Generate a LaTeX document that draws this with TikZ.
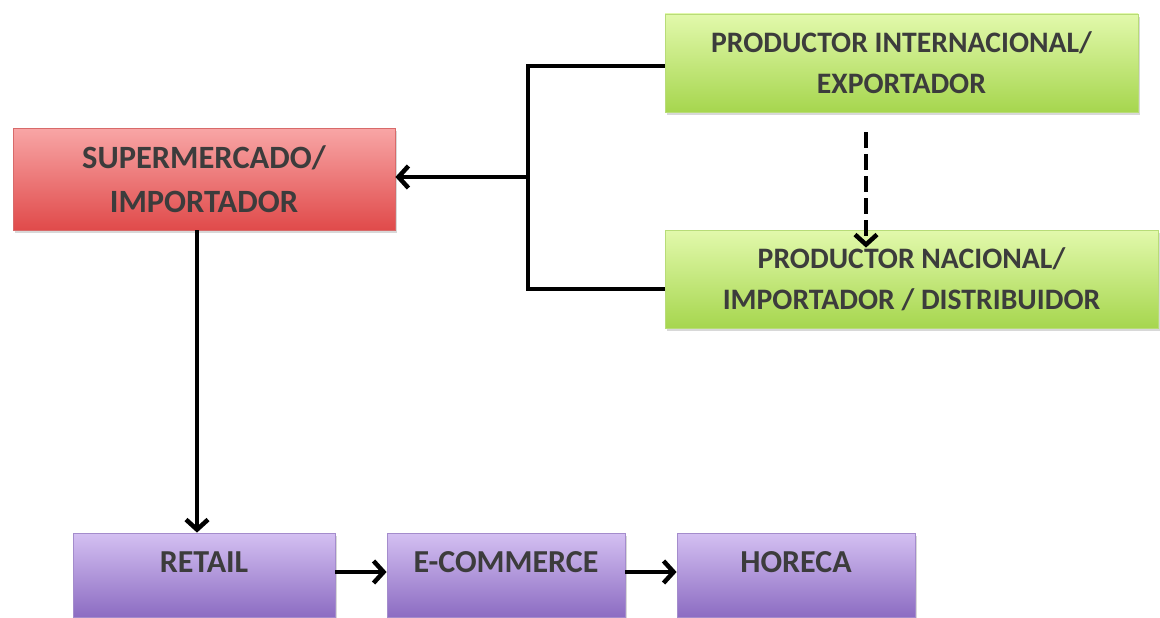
\documentclass[tikz,border=0pt]{standalone}
\usepackage{fontspec}
\setmainfont{Carlito}
\usetikzlibrary{arrows.meta,shadows}
\definecolor{txt}{HTML}{3C3C3C}
\definecolor{redtop}{HTML}{F8A6A6}
\definecolor{redbot}{HTML}{E04A4A}
\definecolor{redline}{HTML}{D86A6A}
\definecolor{grntop}{HTML}{E2F9AC}
\definecolor{grnbot}{HTML}{A6D64E}
\definecolor{grnline}{HTML}{B8DC78}
\definecolor{purtop}{HTML}{D4C0F2}
\definecolor{purbot}{HTML}{8C6CC2}
\definecolor{purline}{HTML}{A48CCC}
\begin{document}
\begin{tikzpicture}[x=1pt,y=-1pt,
  box/.style={rectangle, inner sep=0pt, align=center, text=txt,
    drop shadow={shadow xshift=2pt, shadow yshift=-3pt, opacity=0.3}},
  redbox/.style={box, draw=redline, line width=0.8pt, top color=redtop, bottom color=redbot,
    font=\fontsize{32.5}{44}\selectfont\bfseries},
  grnbox/.style={box, draw=grnline, line width=0.8pt, top color=grntop, bottom color=grnbot,
    font=\fontsize{29.7}{41}\selectfont\bfseries},
  purbox/.style={box, draw=purline, line width=0.8pt, top color=purtop, bottom color=purbot,
    font=\fontsize{32}{40}\selectfont\bfseries,
    minimum height=84, text height=21pt, text depth=26pt},
  conn/.style={line width=4.5pt, black},
  arr/.style={conn, -{Straight Barb[length=10pt,width=22pt]}}
]
\clip (0,0) rectangle (1160,618);
\fill[white] (0,0) rectangle (1160,618);

\node[redbox, minimum width=382, minimum height=102] (super) at (204,179) {SUPERMERCADO/\\IMPORTADOR};
\node[grnbox, minimum width=473, minimum height=98] (intl) at (901.5,63) {PRODUCTOR INTERNACIONAL/\\EXPORTADOR};
\node[grnbox, minimum width=493, minimum height=98] (nac) at (911.5,279) {PRODUCTOR NACIONAL/\\IMPORTADOR / DISTRIBUIDOR};

\node[purbox, minimum width=262] (retail) at (204,575) {RETAIL};
\node[purbox, minimum width=238] (ecom) at (506,575) {E-COMMERCE};
\node[purbox, minimum width=238] (horeca) at (796,575) {HORECA};

\coordinate (j) at (528,177);
\draw[conn] ([yshift=-3pt]intl.west) -| (j);
\draw[conn] ([yshift=-10pt]nac.west) -| (j);
\draw[arr] (j) -- ([yshift=2pt]super.east);

\draw[arr, dash pattern=on 16pt off 6pt, shorten <=20pt, shorten >=-18pt]
  ([xshift=-35.5pt]intl.south) -- ([xshift=-45.5pt]nac.north);

\draw[arr] ([xshift=-7pt]super.south) -- ([xshift=-7pt]retail.north);
\draw[arr] ([yshift=3pt]retail.east) -- ([yshift=3pt]ecom.west);
\draw[arr] ([yshift=3pt]ecom.east) -- ([yshift=3pt]horeca.west);
\end{tikzpicture}
\end{document}
